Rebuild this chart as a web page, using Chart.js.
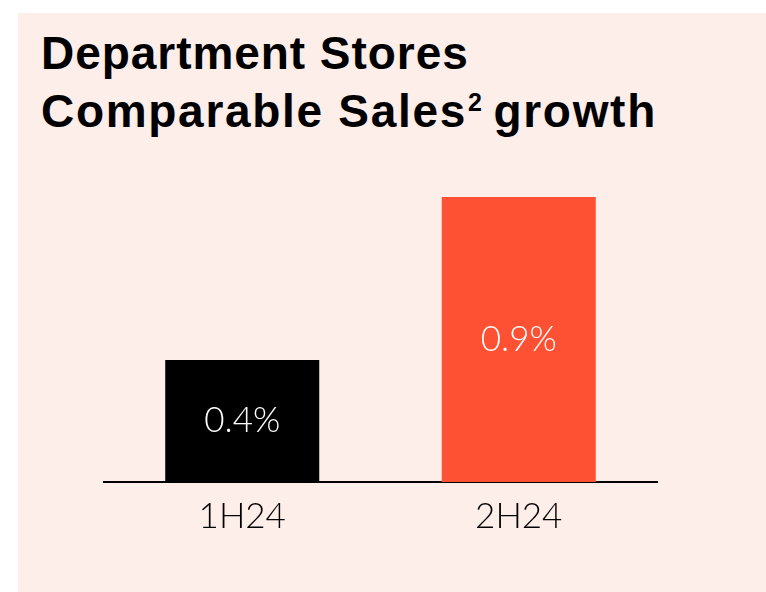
<!DOCTYPE html>
<html>
<head>
<meta charset="utf-8">
<script src="https://cdn.jsdelivr.net/npm/chart.js@4.4.1/dist/chart.umd.min.js"></script>
<style>
  body { margin: 0; background: #fff; width: 766px; height: 592px; overflow: hidden; position: relative; }
  #panel { position: absolute; left: 18px; top: 13px; width: 748px; height: 579px; background: #fdeee9; }
  #title {
    position: absolute; left: 41px; top: 24px;
    font-family: "Liberation Sans", Arial, sans-serif; font-weight: bold;
    font-size: 46px; line-height: 58px; color: #000; white-space: nowrap;
  }
  #title .l1 { letter-spacing: 0.95px; }
  #title .l2 { letter-spacing: 1.7px; }
  #title .sup { display: inline-block; font-size: 25px; line-height: 25px; position: relative; top: -16px; letter-spacing: 0; margin-left: 1px; margin-right: -3px; }
  #chart { position: absolute; left: 0; top: 0; }
</style>
</head>
<body>
<div id="panel"></div>
<div id="title"><span class="l1">Department Stores</span><br><span class="l2">Comparable Sales<span class="sup">2</span> growth</span></div>
<canvas id="chart" width="766" height="592"></canvas>
<script>
// values
const categories = ["1H24", "2H24"];
const growth = [0.385, 0.9];
const growthText = ["0.4%", "0.9%"];
const barColors = ["#000000", "#fe5133"];

const LABEL_FONT = "Lato";

// white value text in the middle of each bar
const barLabels = {
    id: "barLabels",
    afterDatasetsDraw(chart) {
        const ctx = chart.ctx;
        const meta = chart.getDatasetMeta(0);
        ctx.save();
        ctx.font = "300 35px " + LABEL_FONT;
        ctx.fillStyle = "#ffffff";
        ctx.textAlign = "center";
        ctx.textBaseline = "middle";
        meta.data.forEach((bar, i) => {
            const { x, y, base } = bar.getProps(["x", "y", "base"], true);
            ctx.fillText(growthText[i], x, (y + base) / 2);
        });
        ctx.restore();
    }
};

const ctx = document.getElementById("chart").getContext("2d");

new Chart(ctx, {
    type: "bar",
    data: {
        labels: categories,
        datasets: [{
            data: growth,
            backgroundColor: barColors,
            borderWidth: 0,
            categoryPercentage: 1,
            barPercentage: 0.557
        }]
    },
    options: {
        responsive: false,
        animation: false,
        devicePixelRatio: 1,
        layout: { padding: { left: 104, right: 109, top: 197, bottom: 0 } },
        plugins: { legend: { display: false }, tooltip: { enabled: false } },
        scales: {
            y: { display: false, min: 0, max: 0.9 },
            x: {
                grid: { display: false, drawTicks: false },
                border: { display: true, color: "#000", width: 2 },
                ticks: { color: "#000", padding: 14, font: { family: LABEL_FONT, size: 35, weight: 300 } },
                afterFit: (s) => { s.height = 110; }
            }
        }
    },
    plugins: [barLabels]
});
</script>
</body>
</html>
